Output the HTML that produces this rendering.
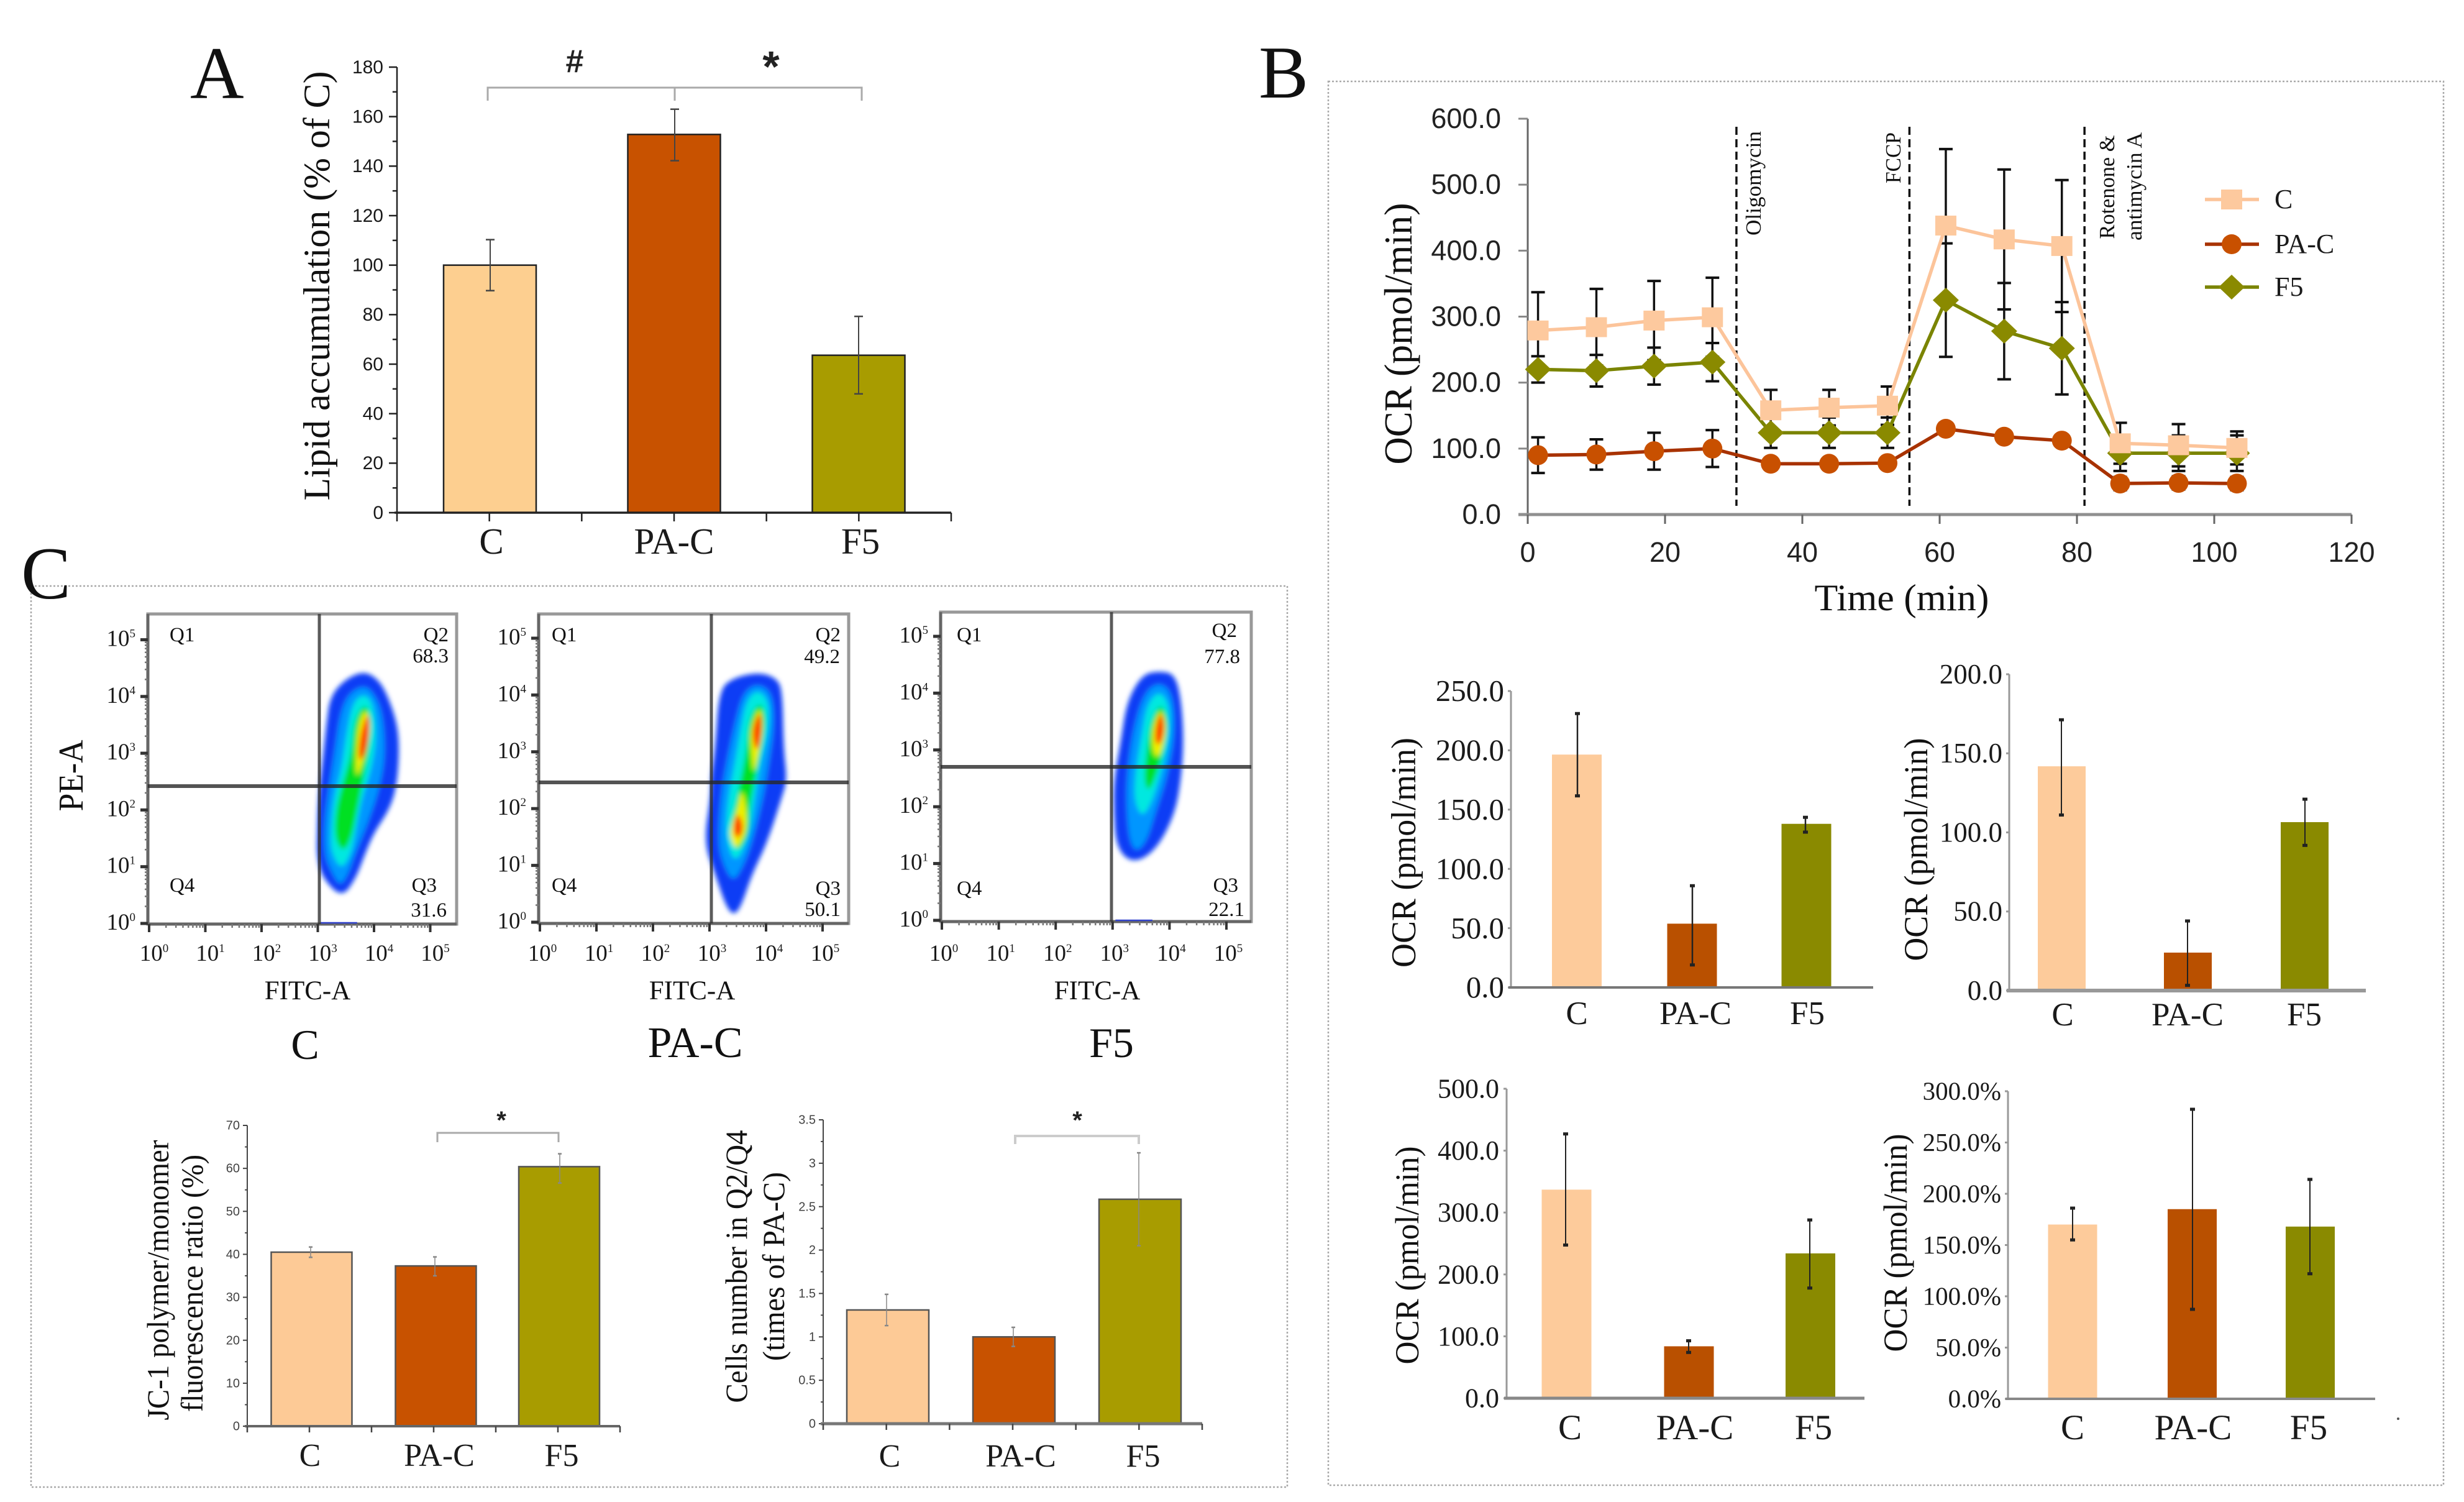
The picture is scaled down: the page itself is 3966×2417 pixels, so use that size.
<!DOCTYPE html>
<html lang="en">
<head>
<meta charset="utf-8">
<title>Lipid accumulation, OCR and JC-1 figure</title>
<style>
html,body{margin:0;padding:0;background:#fff;width:3966px;height:2417px;overflow:hidden}
svg{display:block}
.serif{font-family:"Liberation Serif",serif;fill:#111}
.sans{font-family:"Liberation Sans",sans-serif;fill:#222}
</style>
</head>
<body>
<svg id="figure" xmlns="http://www.w3.org/2000/svg" width="3966" height="2417" viewBox="0 0 3966 2417">
  <defs>
    <filter id="soft" x="-20%" y="-20%" width="140%" height="140%"><feGaussianBlur stdDeviation="4"/></filter>
  </defs>
  <rect x="0" y="0" width="3966" height="2417" fill="#fff"/>

  <rect x="2138" y="131" width="1795" height="2259" fill="none" stroke="#aaa" stroke-width="2.5" stroke-dasharray="3 3"/>
  <rect x="50" y="943" width="2022" height="1450" fill="none" stroke="#aaa" stroke-width="2.5" stroke-dasharray="3 3"/>

  <text class="serif" x="306" y="158" font-size="120">A</text>
  <text class="serif" x="2026" y="157" font-size="120">B</text>
  <text class="serif" x="34" y="963" font-size="120">C</text>

  <text class="serif" transform="rotate(-90 530 460)" x="530" y="460" text-anchor="middle" font-size="60" textLength="691" lengthAdjust="spacingAndGlyphs">Lipid accumulation (% of C)</text>
  <text class="sans" x="925" y="116" text-anchor="middle" font-size="52" font-weight="bold">#</text>
  <text class="sans" x="1241" y="131" text-anchor="middle" font-size="70" font-weight="bold">*</text>
  <path d="M785 162V141H1387V162M1086 141V162" fill="none" stroke="#aaa" stroke-width="3"/>

  <text class="serif" transform="rotate(-90 2272 537)" x="2272" y="537" text-anchor="middle" font-size="63" textLength="421" lengthAdjust="spacingAndGlyphs">OCR (pmol/min)</text>
  <text class="serif" x="3061" y="982" text-anchor="middle" font-size="60" textLength="281" lengthAdjust="spacingAndGlyphs">Time (min)</text>
  <text class="serif" transform="rotate(-90 2834 295)" x="2834" y="295" text-anchor="middle" font-size="35" textLength="168" lengthAdjust="spacingAndGlyphs">Oligomycin</text>
  <text class="serif" transform="rotate(-90 3059 254)" x="3059" y="254" text-anchor="middle" font-size="35" textLength="82" lengthAdjust="spacingAndGlyphs">FCCP</text>
  <text class="serif" transform="rotate(-90 3403 301)" x="3403" y="301" text-anchor="middle" font-size="35" textLength="167" lengthAdjust="spacingAndGlyphs">Rotenone &amp;</text>
  <text class="serif" transform="rotate(-90 3447 300)" x="3447" y="300" text-anchor="middle" font-size="35" textLength="174" lengthAdjust="spacingAndGlyphs">antimycin A</text>

  <text class="serif" transform="rotate(-90 271 2060)" x="271" y="2060" text-anchor="middle" font-size="50" textLength="451" lengthAdjust="spacingAndGlyphs">JC-1 polymer/monomer</text>
  <text class="serif" transform="rotate(-90 326 2065)" x="326" y="2065" text-anchor="middle" font-size="50" textLength="414" lengthAdjust="spacingAndGlyphs">fluorescence ratio (%)</text>
  <text class="sans" x="807" y="1816" text-anchor="middle" font-size="40" font-weight="bold">*</text>
  <path d="M704 1838V1823H899V1838" fill="none" stroke="#aaa" stroke-width="3"/>

  <text class="serif" transform="rotate(-90 1202 2038)" x="1202" y="2038" text-anchor="middle" font-size="50" textLength="439" lengthAdjust="spacingAndGlyphs">Cells number in Q2/Q4</text>
  <text class="serif" transform="rotate(-90 1262 2038)" x="1262" y="2038" text-anchor="middle" font-size="50" textLength="304" lengthAdjust="spacingAndGlyphs">(times of PA-C)</text>
  <text class="sans" x="1734" y="1816" text-anchor="middle" font-size="40" font-weight="bold">*</text>
  <path d="M1634 1841V1828H1833V1841" fill="none" stroke="#ccc" stroke-width="4"/>

  <text class="serif" transform="rotate(-90 2278 1372)" x="2278" y="1372" text-anchor="middle" font-size="56" textLength="370" lengthAdjust="spacingAndGlyphs">OCR (pmol/min)</text>
  <text class="serif" transform="rotate(-90 3102 1367)" x="3102" y="1367" text-anchor="middle" font-size="54" textLength="359" lengthAdjust="spacingAndGlyphs">OCR (pmol/min)</text>
  <text class="serif" transform="rotate(-90 2283 2020)" x="2283" y="2020" text-anchor="middle" font-size="54" textLength="351" lengthAdjust="spacingAndGlyphs">OCR (pmol/min)</text>
  <text class="serif" transform="rotate(-90 3069 2000)" x="3069" y="2000" text-anchor="middle" font-size="54" textLength="351" lengthAdjust="spacingAndGlyphs">OCR (pmol/min)</text>
  <circle cx="3860" cy="2283" r="2" fill="#555"/>

  <text class="serif" transform="rotate(-90 133 1248)" x="133" y="1248" text-anchor="middle" font-size="56" textLength="115" lengthAdjust="spacingAndGlyphs">PE-A</text>
  <text class="serif" x="495" y="1608" text-anchor="middle" font-size="43">FITC-A</text>
  <text class="serif" x="1114" y="1608" text-anchor="middle" font-size="43">FITC-A</text>
  <text class="serif" x="1766" y="1608" text-anchor="middle" font-size="43">FITC-A</text>
  <text class="serif" x="491" y="1704" text-anchor="middle" font-size="68">C</text>
  <text class="serif" x="1119" y="1701" text-anchor="middle" font-size="70">PA-C</text>
  <text class="serif" x="1789" y="1701" text-anchor="middle" font-size="68">F5</text>

  <g class="serif" font-size="33">
    <text x="273" y="1032">Q1</text>
    <text x="722" y="1032" text-anchor="end">Q2</text>
    <text x="722" y="1066" text-anchor="end">68.3</text>
    <text x="273" y="1435">Q4</text>
    <text x="703" y="1435" text-anchor="end">Q3</text>
    <text x="719" y="1475" text-anchor="end">31.6</text>
    <text x="888" y="1032">Q1</text>
    <text x="1353" y="1032" text-anchor="end">Q2</text>
    <text x="1352" y="1067" text-anchor="end">49.2</text>
    <text x="888" y="1435">Q4</text>
    <text x="1353" y="1440" text-anchor="end">Q3</text>
    <text x="1353" y="1474" text-anchor="end">50.1</text>
    <text x="1540" y="1032">Q1</text>
    <text x="1991" y="1025" text-anchor="end">Q2</text>
    <text x="1996" y="1067" text-anchor="end">77.8</text>
    <text x="1540" y="1440">Q4</text>
    <text x="1993" y="1435" text-anchor="end">Q3</text>
    <text x="2003" y="1474" text-anchor="end">22.1</text>
  </g>
</svg>
<script>
// ---------- chart data ----------
const categories = ['C', 'PA-C', 'F5'];

const lipidTicks = [0, 20, 40, 60, 80, 100, 120, 140, 160, 180];
const lipidValues = [100, 152.8, 63.6];
const lipidUpper = [110.3, 163, 79.3];
const lipidLower = [89.7, 142.2, 48];

const jc1Ticks = [0, 10, 20, 30, 40, 50, 60, 70];
const jc1Values = [40.5, 37.3, 60.4];
const jc1Upper = [41.7, 39.4, 63.4];
const jc1Lower = [39.3, 35, 56.6];

const cellsTicks = [0, 0.5, 1, 1.5, 2, 2.5, 3, 3.5];
const cellsValues = [1.31, 1.0, 2.585];
const cellsUpper = [1.49, 1.11, 3.12];
const cellsLower = [1.13, 0.89, 2.05];

const basalTicks = [0, 50, 100, 150, 200, 250];
const basalValues = [196.4, 53.8, 138];
const basalUpper = [231, 85.8, 143.5];
const basalLower = [161.6, 19, 131];

const atpTicks = [0, 50, 100, 150, 200];
const atpValues = [141.8, 24, 106.5];
const atpUpper = [171.2, 44, 121];
const atpLower = [111, 3.3, 91.8];

const maximalTicks = [0, 100, 200, 300, 400, 500];
const maximalValues = [337, 83.9, 234];
const maximalUpper = [427, 92.8, 288];
const maximalLower = [247.5, 74, 178];

const spareTicks = [0, 50, 100, 150, 200, 250, 300];
const spareValues = [170, 185, 168];
const spareUpper = [186, 282.4, 214];
const spareLower = [155, 87.3, 122];

const ocrTimeTicks = [0, 20, 40, 60, 80, 100, 120];
const ocrValueTicks = [0, 100, 200, 300, 400, 500, 600];
const ocrTimes = [1.5, 10, 18.4, 26.9, 35.4, 43.9, 52.4, 60.9, 69.4, 77.8, 86.3, 94.8, 103.3];
const injectionTimes = [30.4, 55.6, 81.1];
const ocrC = [279, 284, 294, 299, 158, 162, 165, 438, 417, 407, 108, 105, 101];
const ocrCErr = [58, 58, 60, 60, 31, 27, 29, 116, 106, 100, 31, 32, 25];
const ocrPA = [90, 91, 96, 100, 77, 77, 78, 130, 118, 112, 47, 48, 47];
const ocrPAErr = [27, 23, 28, 28, 8, 8, 8, 8, 8, 8, 10, 10, 10];
const ocrF5 = [220, 218, 225, 231, 124, 124, 124, 325, 278, 252, 93, 93, 93];
const ocrF5Err = [20, 24, 28, 29, 23, 23, 23, 86, 73, 70, 27, 27, 27];

const flowDecades = [0, 1, 2, 3, 4, 5];

// Density contours: rows of [PE decade, FITC left decade, FITC right decade]
const densityC = [
  [[4.45,3.82,3.82],[4.3,3.48,4.08],[4.0,3.22,4.25],[3.5,3.15,4.42],[3.0,3.1,4.45],[2.4,3.03,4.40],[2.0,3.0,4.27],[1.6,2.99,4.0],[1.2,2.98,3.83],[0.8,3.08,3.68],[0.45,3.43,3.43]],
  [[4.2,3.82,3.82],[4.05,3.55,4.0],[3.7,3.4,4.15],[3.0,3.3,4.2],[2.4,3.2,4.1],[1.8,3.12,3.9],[1.2,3.12,3.65],[0.9,3.25,3.55],[0.65,3.4,3.4]],
  [[4.05,3.82,3.82],[3.9,3.62,3.98],[3.3,3.5,4.05],[2.7,3.42,3.95],[2.2,3.28,3.78],[1.5,3.22,3.65],[1.2,3.26,3.58],[0.95,3.42,3.42]],
  [[3.9,3.85,3.85],[3.6,3.65,3.95],[3.0,3.6,3.9],[2.5,3.45,3.8],[2.0,3.32,3.7],[1.5,3.3,3.6],[1.25,3.45,3.45]],
  [[3.8,3.85,3.85],[3.5,3.72,3.95],[3.0,3.68,3.85],[2.7,3.68,3.75],[2.6,3.7,3.7]],
  [[3.75,3.9,3.9],[3.4,3.77,3.92],[3.0,3.72,3.85],[2.85,3.75,3.75]]
];
const densityPA = [
  [[4.4,3.87,3.87],[4.3,3.41,4.18],[4.08,3.17,4.29],[3.07,3.1,4.31],[2.51,3.02,4.37],[2.23,3.02,4.29],[1.4,2.9,4.02],[0.84,3.1,3.75],[0.28,3.29,3.56],[0.12,3.43,3.43]],
  [[4.2,3.85,3.85],[4.05,3.6,4.1],[3.5,3.45,4.15],[2.8,3.3,4.05],[2.2,3.2,3.95],[1.4,3.15,3.75],[1.0,3.25,3.6],[0.7,3.42,3.42]],
  [[4.1,3.85,3.85],[3.9,3.65,4.05],[3.4,3.55,4.05],[2.8,3.45,3.9],[2.2,3.33,3.8],[1.5,3.28,3.7],[1.0,3.45,3.45]],
  [[3.9,3.9,3.9],[3.6,3.7,4.0],[3.0,3.65,3.9],[2.5,3.55,3.8],[2.0,3.45,3.7],[1.6,3.35,3.7],[1.3,3.45,3.55]],
  [[3.83,3.9,3.9],[3.4,3.72,3.95],[2.9,3.75,3.85],[2.6,3.78,3.78]],
  [[2.37,3.57,3.57],[2.0,3.5,3.65],[1.6,3.35,3.65],[1.4,3.4,3.55],[1.3,3.47,3.47]],
  [[3.75,3.9,3.9],[3.4,3.75,3.93],[3.05,3.8,3.87]],
  [[1.95,3.5,3.5],[1.7,3.42,3.6],[1.5,3.45,3.55]]
];
const densityF5 = [
  [[4.39,3.83,3.83],[4.33,3.52,4.1],[3.85,3.25,4.21],[3.13,3.14,4.25],[2.46,3.02,4.2],[1.9,3.02,4.1],[1.34,3.06,3.83],[1.06,3.25,3.52]],
  [[4.2,3.82,3.82],[4.0,3.55,4.05],[3.3,3.35,4.1],[2.5,3.25,3.95],[1.9,3.25,3.75],[1.4,3.3,3.6],[1.2,3.42,3.42]],
  [[4.05,3.82,3.82],[3.8,3.6,4.0],[3.2,3.5,4.0],[2.6,3.4,3.85],[2.1,3.38,3.7],[1.8,3.52,3.52]],
  [[3.85,3.85,3.85],[3.5,3.67,3.98],[3.0,3.6,3.9],[2.5,3.55,3.75],[2.25,3.62,3.62]],
  [[3.75,3.85,3.85],[3.4,3.7,3.95],[3.0,3.7,3.87],[2.85,3.78,3.78]],
  [[3.7,3.85,3.85],[3.4,3.75,3.92],[3.1,3.75,3.85]]
];
const densityColorsC = ['#0a3cf5', '#0096ff', '#00e8e0', '#00e020', '#f0f000', '#ff3a00'];
const densityColorsPA = ['#0a3cf5', '#0096ff', '#00e8e0', '#00e020', '#f0f000', '#f0f000', '#ff3a00', '#ff3a00'];

// ---------- drawing helpers ----------
const NS = 'http://www.w3.org/2000/svg';
const root = document.getElementById('figure');

function make(tag, attrs, parent, name) {
  const el = document.createElementNS(NS, tag);
  for (const k in attrs) el.setAttribute(k, attrs[k]);
  
  
  parent.appendChild(el);
  return el;
}
function line(p, x1, y1, x2, y2, stroke, w, name) {
  return make('line', {x1, y1, x2, y2, stroke, 'stroke-width': w}, p, name);
}
function label(p, str, x, y, size, family, anchor, name, fill) {
  const t = make('text', {x, y, 'font-size': size, 'font-family': family, 'text-anchor': anchor, fill: fill || '#1a1a1a'}, p, name);
  t.textContent = str;
  return t;
}
const SERIF = '"Liberation Serif", serif';
const SANS = '"Liberation Sans", sans-serif';

function drawBarChart(o) {
  const g = make('g', {}, root, o.name + '-chart');
  const yScale = v => o.yZero - (v / o.max) * (o.yZero - o.yTop);
  const ticks = o.ticks;
  // bars
  o.values.forEach((v, i) => {
    const attrs = {x: o.centers[i] - o.barW / 2, y: yScale(v), width: o.barW, height: yScale(0) - yScale(v), fill: o.colors[i]};
    if (o.outline) { attrs.stroke = o.outline; attrs['stroke-width'] = 2.5; }
    make('rect', attrs, g, 'bar-' + categories[i].toLowerCase());
  });
  // y axis and ticks
  line(g, o.xLeft, o.yTop, o.xLeft, o.yZero, o.axisColor, o.yAxisW, o.name + '-y-axis');
  ticks.forEach((t, i) => {
    const y = yScale(t);
    line(g, o.xLeft - o.tickLen, y, o.xLeft, y, o.axisColor, o.yAxisW, 'y-tick');
    label(g, o.fmt(t), o.labelRight, y + o.labelSize * 0.33, o.labelSize, o.labelFamily, 'end', 'y-tick-label', o.labelFill);
    if (o.minor && i < ticks.length - 1) {
      const ym = yScale((t + ticks[i + 1]) / 2);
      line(g, o.xLeft - o.tickLen * 0.55, ym, o.xLeft, ym, o.axisColor, o.yAxisW, 'y-minor-tick');
    }
  });
  // x axis
  line(g, o.xLeft - 4, o.yZero, o.xRight, o.yZero, o.xAxisColor, o.xAxisW, o.name + '-x-axis');
  (o.xTickCount ? Array.from({length: o.xTickCount}, (_, i) => o.xLeft + (o.xRight - o.xLeft) * i / (o.xTickCount - 1)) : []).forEach(x => {
    line(g, x, o.yZero, x, o.yZero + o.xTickLen, o.axisColor, 2.5, 'x-tick');
  });
  // error bars
  o.values.forEach((v, i) => {
    const x = o.errX[i];
    line(g, x, yScale(o.upper[i]), x, yScale(o.lower[i]), o.errColor, o.errW, 'error-bar');
    line(g, x - o.capW / 2, yScale(o.upper[i]), x + o.capW / 2, yScale(o.upper[i]), o.errColor, o.capT, 'error-cap-upper');
    line(g, x - o.capW / 2, yScale(o.lower[i]), x + o.capW / 2, yScale(o.lower[i]), o.errColor, o.capT, 'error-cap-lower');
  });
  // category labels
  categories.forEach((c, i) => {
    label(g, c, o.catX[i], o.catY, o.catSize, SERIF, 'middle', 'x-category-' + c.toLowerCase());
  });
}

const colorsA = ['#fdcf90', '#c85200', '#a89c00'];
const colorsPanelC = ['#fdca96', '#c85200', '#a89c00'];
const colorsB = ['#fdcb9b', '#b95000', '#8a8a00'];
const asInt = v => String(v);
const asOne = v => v.toFixed(1);
const asPct = v => v.toFixed(1) + '%';

drawBarChart({name:'lipid', xLeft:639, xRight:1531, yTop:108, yZero:825, max:180, ticks:lipidTicks, fmt:asInt, minor:true,
  labelRight:617, labelSize:30, labelFamily:SANS, tickLen:13, axisColor:'#222', yAxisW:2.5, xAxisColor:'#222', xAxisW:3.5, xTickCount:7, xTickLen:14,
  centers:[788.5,1085,1382], barW:149, values:lipidValues, upper:lipidUpper, lower:lipidLower, colors:colorsA, outline:'#222',
  errX:[789,1086,1382], errColor:'#444', errW:2, capW:14, capT:2.5,
  catX:[791,1085,1385], catY:891, catSize:59});

drawBarChart({name:'jc1', xLeft:398, xRight:998, yTop:1811, yZero:2295, max:70, ticks:jc1Ticks, fmt:asInt, minor:true,
  labelRight:386, labelSize:20, labelFamily:SANS, labelFill:'#444', tickLen:7, axisColor:'#444', yAxisW:2, xAxisColor:'#666', xAxisW:4, xTickCount:7, xTickLen:10,
  centers:[501.5,701.5,900], barW:130, values:jc1Values, upper:jc1Upper, lower:jc1Lower, colors:colorsPanelC, outline:'#555',
  errX:[500,700,901], errColor:'#888', errW:1.5, capW:6, capT:2.5,
  catX:[499,707,904], catY:2359, catSize:52});

drawBarChart({name:'cells', xLeft:1325, xRight:1935, yTop:1802, yZero:2291, max:3.5, ticks:cellsTicks, fmt:asInt, minor:true,
  labelRight:1313, labelSize:20, labelFamily:SANS, labelFill:'#444', tickLen:7, axisColor:'#444', yAxisW:2, xAxisColor:'#777', xAxisW:5, xTickCount:7, xTickLen:10,
  centers:[1429,1632,1835], barW:132, values:cellsValues, upper:cellsUpper, lower:cellsLower, colors:colorsPanelC, outline:'#555',
  errX:[1427,1631,1833], errColor:'#888', errW:1.5, capW:6, capT:2.5,
  catX:[1432,1643,1840], catY:2360, catSize:52});

drawBarChart({name:'basal', xLeft:2432, xRight:3015, yTop:1112, yZero:1589, max:250, ticks:basalTicks, fmt:asOne,
  labelRight:2421, labelSize:49, labelFamily:SERIF, tickLen:5, axisColor:'#999', yAxisW:3, xAxisColor:'#777', xAxisW:4, xTickLen:0,
  centers:[2538,2723.5,2907.5], barW:80, values:basalValues, upper:basalUpper, lower:basalLower, colors:colorsB,
  errX:[2539,2724,2906], errColor:'#222', errW:2.5, capW:8, capT:5,
  catX:[2538,2729,2909], catY:1648, catSize:53});

drawBarChart({name:'atp', xLeft:3234, xRight:3808, yTop:1085, yZero:1594, max:200, ticks:atpTicks, fmt:asOne,
  labelRight:3223, labelSize:45, labelFamily:SERIF, tickLen:5, axisColor:'#999', yAxisW:3, xAxisColor:'#999', xAxisW:6, xTickLen:0,
  centers:[3318.5,3521.5,3709.5], barW:77, values:atpValues, upper:atpUpper, lower:atpLower, colors:colorsB,
  errX:[3318,3521,3710], errColor:'#222', errW:2, capW:8, capT:5,
  catX:[3320,3521,3709], catY:1650, catSize:53});

drawBarChart({name:'maximal', xLeft:2425, xRight:3001, yTop:1752, yZero:2250, max:500, ticks:maximalTicks, fmt:asOne,
  labelRight:2413, labelSize:44, labelFamily:SERIF, tickLen:5, axisColor:'#999', yAxisW:3, xAxisColor:'#888', xAxisW:5, xTickLen:0,
  centers:[2521.5,2718.5,2914], barW:80, values:maximalValues, upper:maximalUpper, lower:maximalLower, colors:colorsB,
  errX:[2520,2718,2913], errColor:'#222', errW:2, capW:8, capT:5,
  catX:[2527,2728,2919], catY:2316, catSize:57});

drawBarChart({name:'spare', xLeft:3232, xRight:3823, yTop:1756, yZero:2251, max:300, ticks:spareTicks, fmt:asPct,
  labelRight:3221, labelSize:41, labelFamily:SERIF, tickLen:5, axisColor:'#999', yAxisW:3, xAxisColor:'#888', xAxisW:4, xTickLen:0,
  centers:[3336,3528.5,3718.5], barW:79, values:spareValues, upper:spareUpper, lower:spareLower, colors:colorsB,
  errX:[3336,3529,3718], errColor:'#222', errW:2, capW:8, capT:5,
  catX:[3336,3530,3716], catY:2316, catSize:57});

// ---------- OCR time-course ----------
(function drawOcr() {
  const g = make('g', {}, root, 'ocr-time-course-chart');
  const xScale = t => 2459 + t * (3785 - 2459) / 120;
  const yScale = v => 828 - v * (828 - 191) / 600;
  line(g, xScale(0), yScale(600), xScale(0), yScale(0) + 14, '#666', 3, 'ocr-y-axis');
  ocrValueTicks.forEach(v => {
    line(g, xScale(0) - 15, yScale(v), xScale(0), yScale(v), '#888', 3, 'ocr-y-tick');
    label(g, v.toFixed(1), 2416, yScale(v) + 15, 45, SANS, 'end', 'ocr-y-tick-label', '#222');
  });
  line(g, xScale(0) - 15, yScale(0), xScale(120), yScale(0), '#909090', 5, 'ocr-x-axis');
  ocrTimeTicks.forEach(t => {
    line(g, xScale(t), yScale(0), xScale(t), yScale(0) + 15, '#666', 3, 'ocr-x-tick');
    label(g, String(t), xScale(t), 904, 45, SANS, 'middle', 'ocr-x-tick-label', '#222');
  });
  injectionTimes.forEach(t => {
    const l = line(g, xScale(t), 204, xScale(t), 814, '#111', 3.5, 'injection-marker-line');
    l.setAttribute('stroke-dasharray', '13 7');
  });
  const series = [
    {key:'f5', vals:ocrF5, errs:ocrF5Err, line:'#7a8400', fill:'#8a8a00'},
    {key:'c', vals:ocrC, errs:ocrCErr, line:'#fcc49a', fill:'#fdc99e'},
    {key:'pa-c', vals:ocrPA, errs:ocrPAErr, line:'#a83200', fill:'#c85000'}
  ];
  [series[1], series[2], series[0]].forEach(s => {
    s.vals.forEach((v, i) => {
      const x = xScale(ocrTimes[i]);
      const hi = yScale(v + s.errs[i]);
      const lo = yScale(v - s.errs[i]);
      line(g, x, hi, x, lo, '#111', 3.5, 'ocr-error-bar-' + s.key);
      line(g, x - 11, hi, x + 11, hi, '#111', 4, 'ocr-error-cap-' + s.key);
      line(g, x - 11, lo, x + 11, lo, '#111', 4, 'ocr-error-cap-' + s.key);
    });
  });
  function marker(p, key, cx, cy, fill) {
    if (key === 'c') make('rect', {x: cx - 17, y: cy - 16, width: 34, height: 32, fill}, p, 'marker-c');
    else if (key === 'pa-c') make('circle', {cx, cy, r: 16, fill}, p, 'marker-pa-c');
    else make('path', {d: `M${cx} ${cy - 20}L${cx + 21} ${cy}L${cx} ${cy + 20}L${cx - 21} ${cy}Z`, fill}, p, 'marker-f5');
  }
  series.forEach(s => {
    const pts = s.vals.map((v, i) => xScale(ocrTimes[i]) + ',' + yScale(v)).join(' ');
    make('polyline', {points: pts, fill: 'none', stroke: s.line, 'stroke-width': 5.5}, g, 'ocr-line-' + s.key);
    s.vals.forEach((v, i) => marker(g, s.key, xScale(ocrTimes[i]), yScale(v), s.fill));
  });
  // legend
  const legend = make('g', {}, g, 'ocr-legend');
  [['c', 321, 335, series[1]], ['pa-c', 393, 407, series[2]], ['f5', 462, 476, series[0]]].forEach(([key, my, ty, s], i) => {
    line(legend, 3549, my, 3636, my, s.line, 5.5, 'legend-line-' + key);
    marker(legend, key, 3592, my, s.fill);
    label(legend, categories[i], 3661, ty, 44, SERIF, 'start', 'legend-label-' + key);
  });
})();

// ---------- flow cytometry panels ----------
function contourPath(rows, x, y) {
  const right = rows.map(r => [x(r[2]), y(r[0])]);
  const left = rows.filter(r => r[1] !== r[2]).map(r => [x(r[1]), y(r[0])]).reverse();
  const pts = right.concat(left);
  let d = '';
  pts.forEach((p, i) => {
    const n = pts[(i + 1) % pts.length];
    const mx = (p[0] + n[0]) / 2;
    const my = (p[1] + n[1]) / 2;
    if (i === 0) {
      const l = pts[pts.length - 1];
      d += `M${(l[0] + p[0]) / 2} ${(l[1] + p[1]) / 2}`;
    }
    d += `Q${p[0]} ${p[1]} ${mx} ${my}`;
  });
  return d + 'Z';
}
function drawFlow(o) {
  const g = make('g', {}, root, 'flow-plot-' + o.name);
  const x = d => o.x0 + o.dx * d;
  const y = d => o.y0 - o.dy * d;
  const blur = make('g', {filter: 'url(#soft)'}, g, 'density-contours-' + o.name);
  o.density.forEach((rows, i) => {
    make('path', {d: contourPath(rows, x, y), fill: o.colors[i]}, blur, 'density-level');
  });
  make('rect', {x: o.left, y: o.top, width: o.right - o.left, height: o.bottom - o.top, fill: 'none', stroke: '#999', 'stroke-width': 5}, g, 'flow-plot-border');
  line(g, o.left, o.top, o.left, o.bottom, '#666', 5, 'flow-y-axis');
  line(g, o.left, o.bottom, o.right, o.bottom, '#666', 5, 'flow-x-axis');
  if (o.sparse) line(g, x(3.05), o.bottom - 2, x(3.7), o.bottom - 2, '#3344cc', 2.5, 'flow-axis-events');
  line(g, o.gateX, o.top, o.gateX, o.bottom, 'rgba(50,50,50,.8)', 5, 'vertical-gate');
  line(g, o.left, o.gateY, o.right, o.gateY, 'rgba(40,40,40,.8)', 6, 'horizontal-gate');
  flowDecades.forEach(d => {
    line(g, o.left - 12, y(d), o.left, y(d), '#333', 5, 'flow-y-tick');
    line(g, x(d), o.bottom, x(d), o.bottom + 13, '#333', 4, 'flow-x-tick');
    if (d < 5) {
      [2, 3, 4, 5, 6, 7, 8, 9].forEach(m => {
        const frac = Math.log10(m);
        line(g, o.left - 5, y(d + frac), o.left, y(d + frac), '#777', 2.5, 'flow-y-minor-tick');
        line(g, x(d + frac), o.bottom, x(d + frac), o.bottom + 6, '#777', 2.5, 'flow-x-minor-tick');
      });
    }
    const ty = label(g, '10', o.left - 20, y(d) + 10, 37, SERIF, 'end', 'flow-y-tick-label');
    const sy = make('tspan', {dy: -14, 'font-size': 19}, ty, 'flow-y-exponent');
    sy.textContent = String(d);
    const tx = label(g, '10', x(d) + o.labelDx, 1546, 37, SERIF, 'middle', 'flow-x-tick-label');
    const sx = make('tspan', {dy: -14, 'font-size': 19}, tx, 'flow-x-exponent');
    sx.textContent = String(d);
  });
}
drawFlow({name:'c', x0:240, dx:90.5, y0:1486, dy:91.3, left:238, right:735, top:988, bottom:1487, gateX:514, gateY:1265, labelDx:8, sparse:true, density:densityC, colors:densityColorsC});
drawFlow({name:'pa-c', x0:869, dx:91, y0:1484, dy:91.4, left:867, right:1366, top:988, bottom:1486, gateX:1145, gateY:1259, labelDx:4, sparse:false, density:densityPA, colors:densityColorsPA});
drawFlow({name:'f5', x0:1516, dx:91.6, y0:1481, dy:91.4, left:1514, right:2014, top:985, bottom:1483, gateX:1789, gateY:1234, labelDx:3, sparse:true, density:densityF5, colors:densityColorsC});
</script>
</body>
</html>
